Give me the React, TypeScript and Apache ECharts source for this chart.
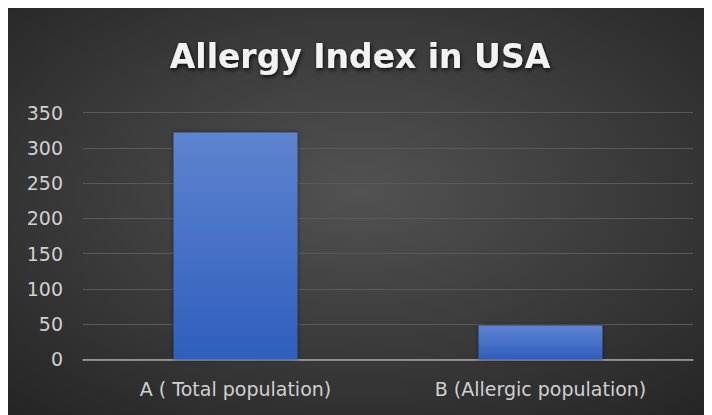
import React, { useEffect, useRef } from "react";
import * as echarts from "echarts";

const categories = ["A ( Total population)", "B (Allergic population)"];
const values = [322, 48];
const yTicks = [0, 50, 100, 150, 200, 250, 300, 350];

export default function App() {
  const ref = useRef<HTMLDivElement>(null);
  useEffect(() => {
    if (!ref.current) return;
    const chart = echarts.init(ref.current, null, { renderer: "svg" });
    chart.setOption({
      animation: false,
      backgroundColor: {
        type: "radial",
        x: 0.5,
        y: 0.45,
        r: 0.75,
        colorStops: [
          { offset: 0, color: "#525252" },
          { offset: 1, color: "#242424" },
        ],
      },
      title: {
        text: "Allergy Index in USA",
        left: "center",
        top: 27,
        textStyle: {
          color: "#f2f2f2",
          fontFamily: "DejaVu Sans",
          fontWeight: "bold",
          fontSize: 33,
          textShadowColor: "rgba(0,0,0,0.8)",
          textShadowBlur: 4,
          textShadowOffsetX: 1,
          textShadowOffsetY: 2,
        },
      },
      grid: { left: 75, right: 19, top: 104.7, bottom: 55.7, containLabel: false },
      xAxis: {
        type: "category",
        data: categories,
        axisTick: { show: false },
        axisLine: { lineStyle: { color: "#a6a6a6", width: 1.5 } },
        axisLabel: {
          color: "#d0d0d0",
          fontFamily: "DejaVu Sans",
          fontSize: 19,
          margin: 20,
        },
      },
      yAxis: {
        type: "value",
        min: yTicks[0],
        max: yTicks[yTicks.length - 1],
        interval: 50,
        axisLine: { show: false },
        axisTick: { show: false },
        splitLine: { lineStyle: { color: "#5a5a5a", width: 1 } },
        axisLabel: {
          color: "#d0d0d0",
          fontFamily: "DejaVu Sans",
          fontSize: 19,
          margin: 20,
        },
      },
      series: [
        {
          type: "bar",
          data: values,
          barWidth: "40.6%",
          itemStyle: {
            color: {
              type: "linear",
              x: 0,
              y: 0,
              x2: 0,
              y2: 1,
              colorStops: [
                { offset: 0, color: "#5e84d0" },
                { offset: 1, color: "#2f5ebd" },
              ],
            },
            shadowColor: "rgba(0,0,0,0.5)",
            shadowBlur: 4,
          },
        },
      ],
    });
    return () => chart.dispose();
  }, []);
  return <div ref={ref} style={{ width: 704, height: 407 }} />;
}
